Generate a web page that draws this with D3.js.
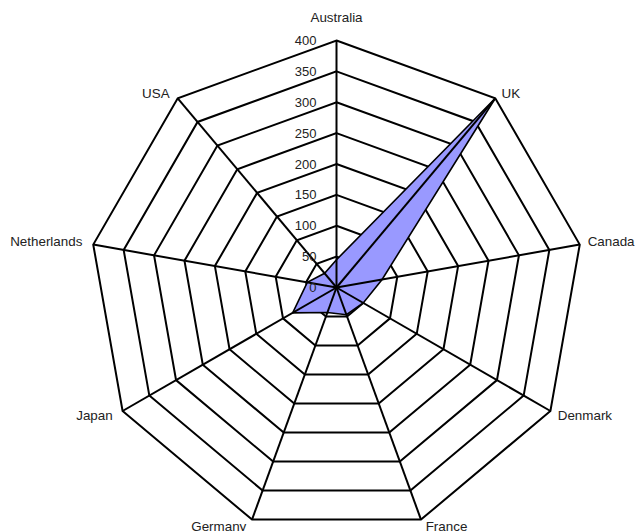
<!DOCTYPE html>
<html>
<head>
<meta charset="utf-8">
<script src="https://cdn.jsdelivr.net/npm/d3@7"></script>
<style>
  html, body { margin: 0; padding: 0; background: #fff; }
  svg { display: block; font-family: "Liberation Sans", Arial, sans-serif; }
</style>
</head>
<body>
<svg id="chart" width="635" height="531"></svg>
<script>
const categories = ["Australia", "UK", "Canada", "Denmark", "France", "Germany", "Japan", "Netherlands", "USA"];
const values = [45, 400, 75, 50, 47, 43, 82, 48, 30];
const tickValues = [0, 50, 100, 150, 200, 250, 300, 350, 400];

const cx = 336.5, cy = 287.5, R = 247;
const svg = d3.select("#chart");
const g = svg.append("g").attr("transform", `translate(${cx},${cy})`);

const r = d3.scaleLinear().domain([0, 400]).range([0, R]);
const angle = d3.scaleLinear().domain([0, categories.length]).range([0, 2 * Math.PI]);

// rings
const ringLine = d3.lineRadial()
  .angle((d, i) => angle(i))
  .radius(d => r(d))
  .curve(d3.curveLinearClosed);

tickValues.filter(t => t > 0).forEach(t => {
  g.append("path")
    .attr("d", ringLine(categories.map(() => t)))
    .attr("fill", "none")
    .attr("stroke", "#000")
    .attr("stroke-width", 2);
});

// data polygon
g.append("path")
  .attr("d", ringLine(values))
  .attr("fill", "#9999ff")
  .attr("stroke", "#000")
  .attr("stroke-width", 1.6)
  .attr("stroke-linejoin", "miter");

// spokes
categories.forEach((c, i) => {
  const a = angle(i);
  g.append("line")
    .attr("x1", 0).attr("y1", 0)
    .attr("x2", r(400) * Math.sin(a))
    .attr("y2", -r(400) * Math.cos(a))
    .attr("stroke", "#000")
    .attr("stroke-width", 2);
});

// tick labels
tickValues.forEach(t => {
  g.append("text")
    .attr("x", -20)
    .attr("y", -r(t))
    .attr("dy", "0.35em")
    .attr("text-anchor", "end")
    .attr("font-size", 13)
    .attr("fill", "#222")
    .text(t);
});

// category labels
categories.forEach((c, i) => {
  const a = angle(i);
  const s = Math.sin(a), co = Math.cos(a);
  const vx = r(400) * s, vy = -r(400) * co;
  let anchor = "middle", x = vx;
  if (s > 0.1) { anchor = "start"; x = vx + 3 + 5 * Math.abs(s); }
  else if (s < -0.1) { anchor = "end"; x = vx - 3 - 8 * Math.abs(s); }
  let off;
  if (co > 0.9) off = -19;
  else if (co > 0.5) off = 0;
  else if (co > -0.1) off = 1.5;
  else if (co > -0.7) off = 9;
  else off = 11;
  g.append("text")
    .attr("x", x)
    .attr("y", vy + off)
    .attr("text-anchor", anchor)
    .attr("font-size", 13.4)
    .attr("fill", "#222")
    .text(c);
});
</script>
</body>
</html>
